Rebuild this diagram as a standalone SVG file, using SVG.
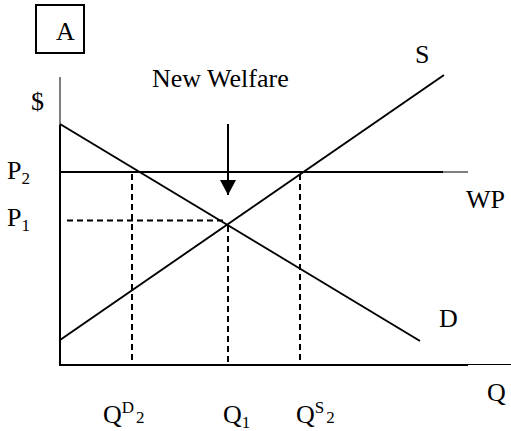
<svg xmlns="http://www.w3.org/2000/svg" width="511" height="431" viewBox="0 0 511 431">
<style>
text{font-family:"Liberation Serif","Times New Roman",Tinos,serif;font-size:26px;fill:#000}
.sub{font-size:17px}
.ln{stroke:#000;stroke-width:2;fill:none}
.thin{stroke:#000;stroke-width:1;fill:none}
.dash{stroke:#000;stroke-width:2;fill:none;stroke-dasharray:6 4}
</style>
<defs>
<marker id="ah" markerWidth="16" markerHeight="16" refX="15" refY="8" orient="auto" markerUnits="userSpaceOnUse" viewBox="0 0 16 16">
<path d="M0,0 L15,8 L0,16 Z" fill="#000"/>
</marker>
</defs>
<rect width="511" height="431" fill="#fff"/>
<g id="label-A">
<rect x="36" y="5" width="48" height="48" class="ln"/>
<text x="56" y="40">A</text>
</g>
<g id="axes">
<line x1="60" y1="77" x2="60" y2="125" class="thin"/>
<line x1="60" y1="125" x2="60" y2="366" class="ln"/>
<line x1="59" y1="365" x2="468" y2="365" class="ln"/>
<line x1="468" y1="364.5" x2="511" y2="364.5" class="thin"/>
<text x="31" y="110">$</text>
<text x="487" y="401">Q</text>
</g>
<g id="connectors">
<line x1="60" y1="124" x2="420" y2="341" class="ln"/>
<line x1="60" y1="340" x2="444" y2="75" class="ln"/>
<line x1="60" y1="172" x2="443" y2="172" class="ln"/>
<line x1="443" y1="172" x2="468" y2="172" class="thin"/>
<line x1="67" y1="220.5" x2="226" y2="220.5" class="dash"/>
<line x1="132" y1="174" x2="132" y2="364" class="dash"/>
<line x1="228" y1="226" x2="228" y2="364" class="dash"/>
<line x1="300" y1="174" x2="300" y2="364" class="dash"/>
<line x1="228" y1="124" x2="228" y2="195" class="ln" marker-end="url(#ah)"/>
</g>
<g id="curve-labels">
<text x="415" y="63">S</text>
<text x="439" y="327">D</text>
<text x="466" y="208">WP</text>
<text x="152" y="87">New Welfare</text>
</g>
<g id="price-labels">
<text x="7" y="179">P<tspan class="sub" dy="5">2</tspan></text>
<text x="7" y="226">P<tspan class="sub" dy="5">1</tspan></text>
</g>
<g id="quantity-labels">
<text x="103" y="423">Q<tspan class="sub" dy="-10">D</tspan><tspan class="sub" dy="10" dx="2">2</tspan></text>
<text x="223" y="423">Q<tspan class="sub" dy="5">1</tspan></text>
<text x="296" y="423">Q<tspan class="sub" dy="-10">S</tspan><tspan class="sub" dy="10" dx="2">2</tspan></text>
</g>
</svg>
